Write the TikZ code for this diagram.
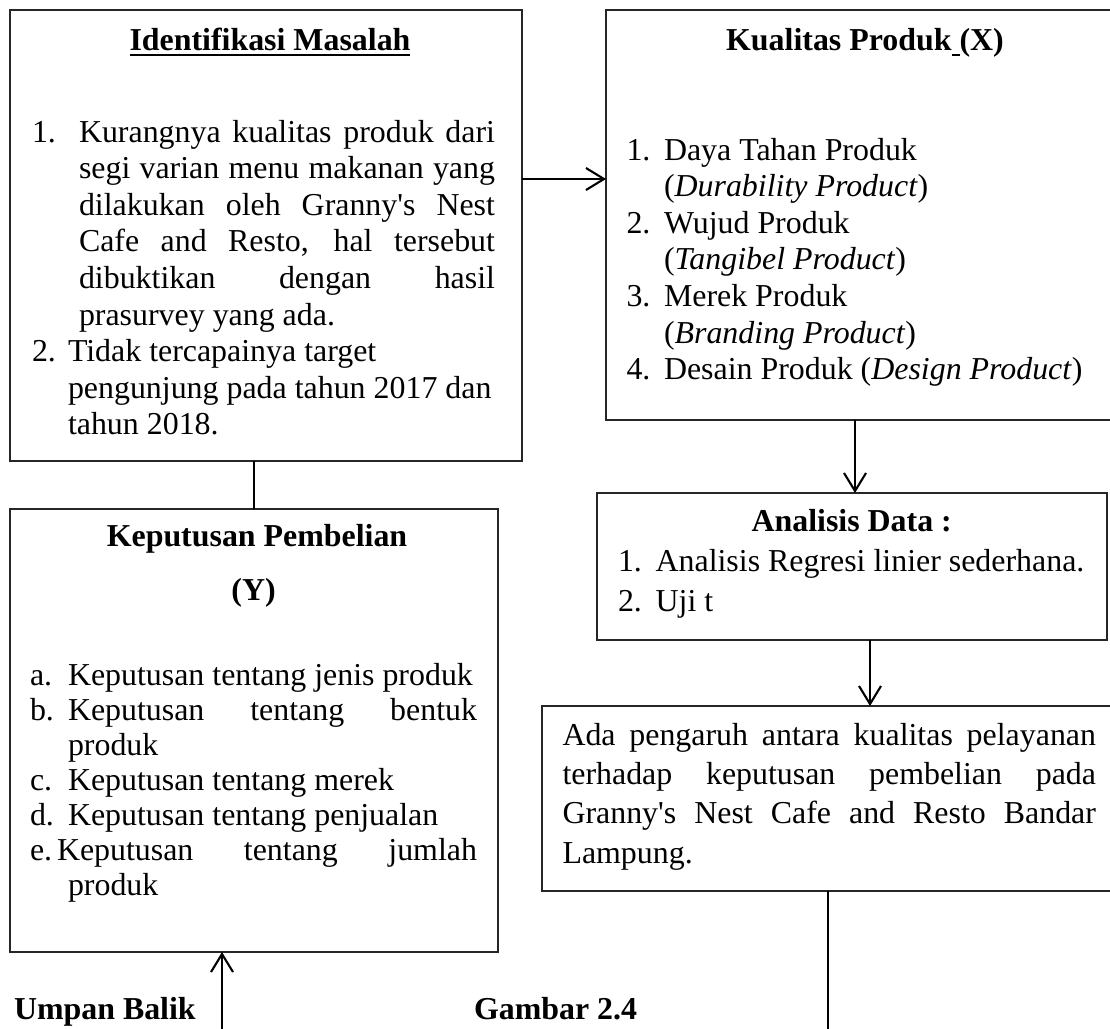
\documentclass[tikz,border=0pt]{standalone}
\usepackage{fontspec}
\setmainfont{Liberation Serif}[Ligatures=TeXOff]
\usetikzlibrary{arrows.meta}
\newcommand\myfs{\fontsize{31.9pt}{36.6pt}\selectfont}
\begin{document}
\begin{tikzpicture}[x=1pt,y=-1pt,
  box/.style={draw=black!85, line width=1.8pt, inner sep=0pt, outer sep=0pt, anchor=north west},
  txt/.style={anchor=base west, inner sep=0pt, outer sep=0pt, font=\myfs},
  ttl/.style={anchor=base, inner sep=0pt, outer sep=0pt, font=\myfs\bfseries},
  conn/.style={line width=2.1pt},
  arr/.style={conn, -{Straight Barb[length=18pt,width=22pt,line width=2.1pt]}},
]
\useasboundingbox (0,0) rectangle (1110,1028);
\clip (0,0) rectangle (1110,1028);
\fill[white] (0,0) rectangle (1110,1028);

% boxes
\node[box, minimum width=512pt, minimum height=451pt] (b1) at (10,10) {};
\node[box, minimum width=520pt, minimum height=410pt] (b2) at (606,10) {};
\node[box, minimum width=510pt, minimum height=147pt] (b3) at (597,493) {};
\node[box, minimum width=580pt, minimum height=185pt] (b4) at (542,706) {};
\node[box, minimum width=488pt, minimum height=443pt] (bY) at (10,509) {};

% connector helpers
\coordinate (yA) at (0,179);
\coordinate (xB) at (855,0);
\coordinate (xC) at (870,0);
\coordinate (xD) at (828,1030);
\coordinate (xE) at (222,1030);

\draw[arr] (b1.east |- yA) -- (b2.west |- yA);
\draw[conn] (b1.south -| bY.north) -- (bY.north);
\draw[arr] (b2.south -| xB) -- (b3.north -| xB);
\draw[arr] (b3.south -| xC) -- (b4.north -| xC);
\draw[conn] (b4.south -| xD) -- (xD);
\draw[arr] (xE) -- (bY.south -| xE);

% box 1
\node[ttl] (t1) at (270,50) {Identifikasi Masalah};
\draw[line width=1.8pt] ([yshift=-5pt]t1.base west) -- ([yshift=-5pt]t1.base east);
\node[txt] (n11) at (32,142) {1.};
\node[txt] (l11) at (79,142) {\makebox[416pt][s]{Kurangnya kualitas produk dari}};
\node[txt] (l12) at (79,178.6) {\makebox[416pt][s]{segi varian menu makanan yang}};
\node[txt] (l13) at (79,215.2) {\makebox[416pt][s]{dilakukan oleh Granny's Nest}};
\node[txt] (l14) at (79,251.8) {\makebox[416pt][s]{Cafe and Resto, hal tersebut}};
\node[txt] (l15) at (79,288.4) {\makebox[416pt][s]{dibuktikan dengan hasil}};
\node[txt] (l16) at (79,325) {prasurvey yang ada.};
\node[txt] (n12) at (32,361.6) {2.};
\node[txt] (l17) at (68,361.6) {Tidak tercapainya target};
\node[txt] (l18) at (68,398.2) {pengunjung pada tahun 2017 dan};
\node[txt] (l19) at (68,434.8) {tahun 2018.};

% box 2
\node[ttl] (t2) at (865,50) {Kualitas Produk\rule[-6pt]{8pt}{1.8pt}(X)};
\node[txt] (n21) at (626.5,160) {1.};
\node[txt] (l21) at (664,160) {Daya Tahan Produk};
\node[txt] (l22) at (664,196.6) {(\textit{Durability Product})};
\node[txt] (n22) at (626.5,233.2) {2.};
\node[txt] (l23) at (664,233.2) {Wujud Produk};
\node[txt] (l24) at (664,269.8) {(\textit{Tangibel Product})};
\node[txt] (n23) at (626.5,306.4) {3.};
\node[txt] (l25) at (664,306.4) {Merek Produk};
\node[txt] (l26) at (664,343) {(\textit{Branding Product})};
\node[txt] (n24) at (626.5,379.6) {4.};
\node[txt] (l27) at (664,379.6) {Desain Produk (\textit{Design Product})};

% box 3
\node[ttl] (t3) at (851.7,531.7) {Analisis Data :};
\node[txt] (n31) at (618,571.7) {1.};
\node[txt] (l31) at (655.6,571.7) {Analisis Regresi linier sederhana.};
\node[txt] (n32) at (618,611.7) {2.};
\node[txt] (l32) at (655.6,611.7) {Uji t};

% box 4
\node[txt] (l41) at (562.5,745) {\makebox[533.5pt][s]{Ada pengaruh antara kualitas pelayanan}};
\node[txt] (l42) at (562.5,784.4) {\makebox[533.5pt][s]{terhadap keputusan pembelian pada}};
\node[txt] (l43) at (562.5,823.8) {\makebox[533.5pt][s]{Granny's Nest Cafe and Resto Bandar}};
\node[txt] (l44) at (562.5,863.2) {Lampung.};

% box Y
\node[ttl] (tY1) at (257,546.7) {Keputusan Pembelian};
\node[ttl] (tY2) at (253.6,600) {(Y)};
\node[txt] (nYa) at (30,685) {a.};
\node[txt] (lYa) at (68,685) {Keputusan tentang jenis produk};
\node[txt] (nYb) at (30,720) {b.};
\node[txt] (lYb) at (68,720) {\makebox[409pt][s]{Keputusan tentang bentuk}};
\node[txt] (lYb2) at (68,755) {produk};
\node[txt] (nYc) at (30,790) {c.};
\node[txt] (lYc) at (68,790) {Keputusan tentang merek};
\node[txt] (nYd) at (30,825) {d.};
\node[txt] (lYd) at (68,825) {Keputusan tentang penjualan};
\node[txt] (nYe) at (30,860) {e.};
\node[txt] (lYe) at (57,860) {\makebox[420pt][s]{Keputusan tentang jumlah}};
\node[txt] (lYe2) at (68,895) {produk};

% bottom labels
\node[txt, font=\myfs\bfseries] (ub) at (14,1019) {Umpan Balik};
\node[txt, font=\myfs\bfseries] (gb) at (474,1019) {Gambar 2.4};
\end{tikzpicture}
\end{document}
